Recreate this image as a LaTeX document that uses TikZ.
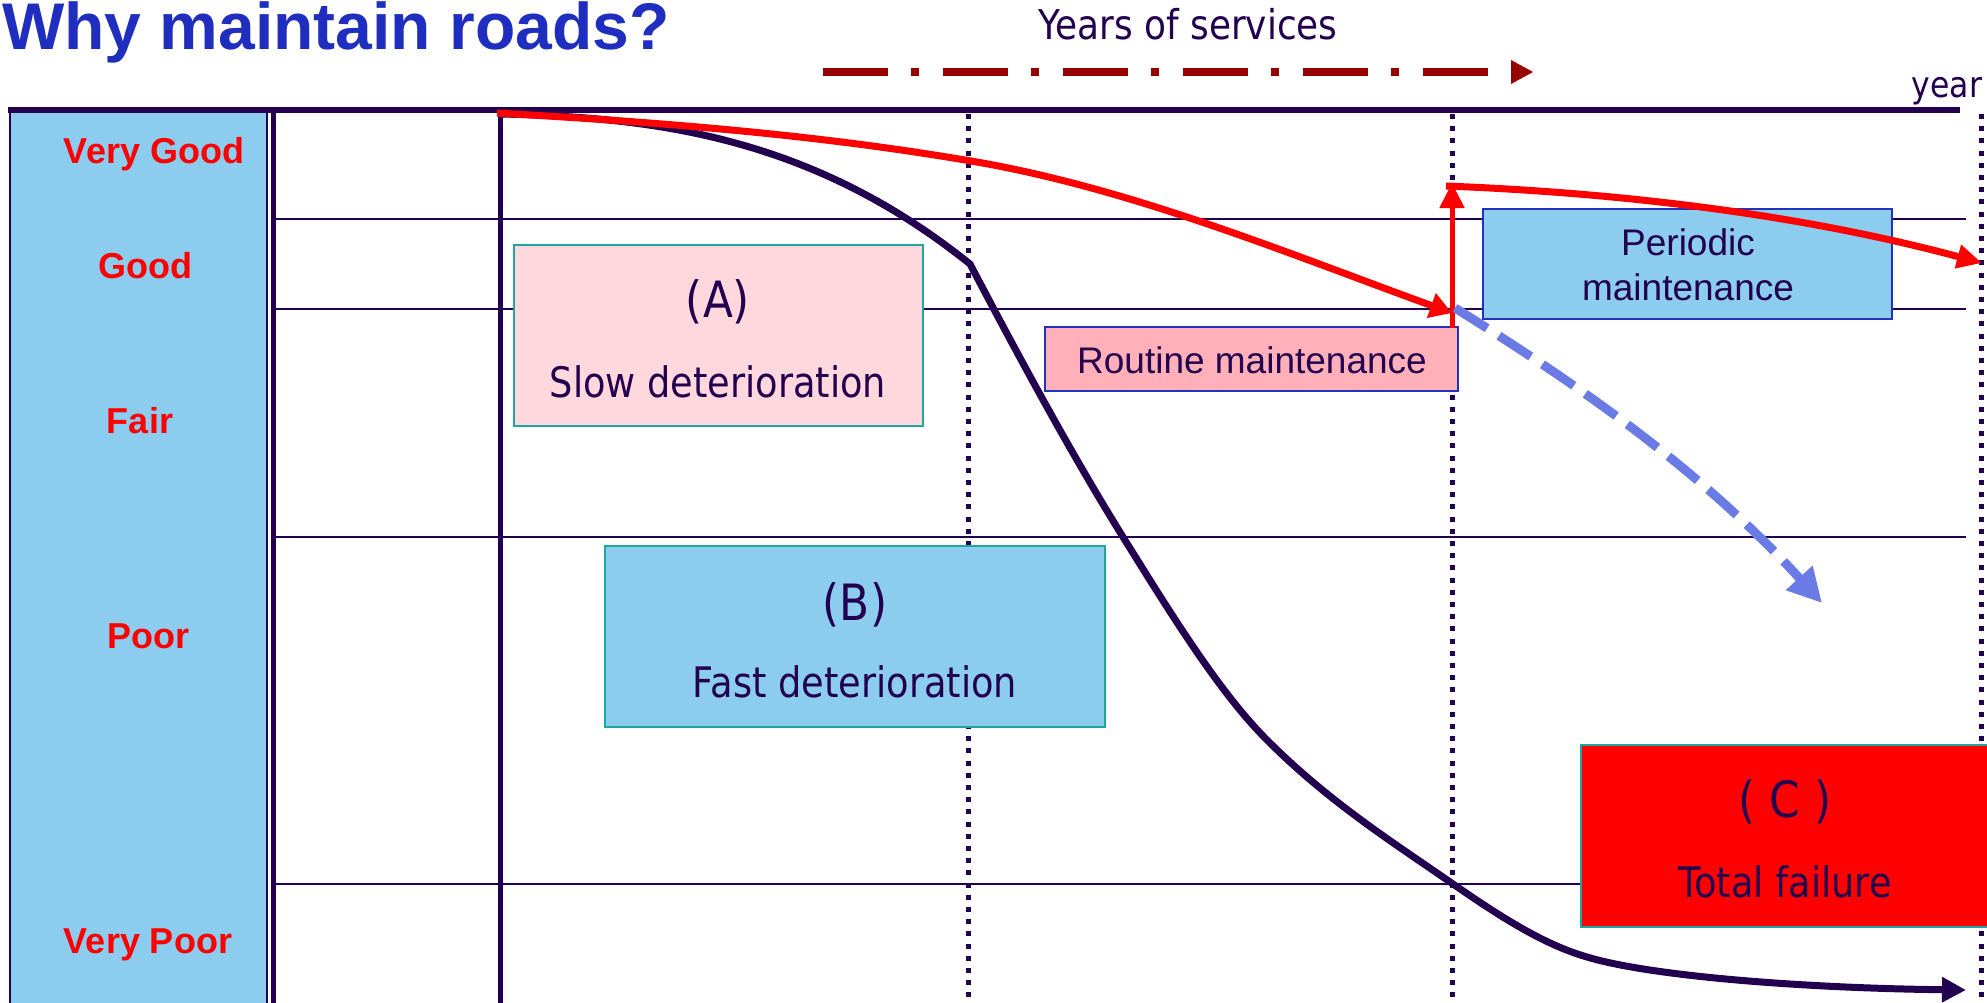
\documentclass[tikz,border=0pt]{standalone}
\usepackage{fontspec}
\setmainfont{Liberation Sans}
\newfontfamily\tahfont[FakeStretch=0.875]{DejaVu Sans}
\usetikzlibrary{arrows.meta}

\definecolor{inkNavy}{HTML}{22004F}
\definecolor{titleBlue}{HTML}{1F2EBF}
\definecolor{panelBlue}{HTML}{8CCCEE}
\definecolor{tealEdge}{HTML}{20A5A5}
\definecolor{boxEdge}{HTML}{2233BB}
\definecolor{pinkA}{HTML}{FFD8DD}
\definecolor{pinkR}{HTML}{FFB0B8}
\definecolor{darkRed}{HTML}{990000}
\definecolor{dashBlue}{HTML}{6B7BE6}

\tikzset{
  gridline/.style={draw=inkNavy, line width=2.5bp},
  dotline/.style={draw=inkNavy, line width=5bp, dash pattern=on 5bp off 7.2bp},
  boxbase/.style={rectangle, inner sep=0pt, outer sep=0pt, line width=2.2bp},
  tealbox/.style={boxbase, draw=tealEdge},
  bluebox/.style={boxbase, draw=boxEdge},
  level/.style={text=red, anchor=base, inner sep=0pt,
    font=\fontsize{36bp}{40bp}\selectfont\bfseries},
  tlabel/.style={text=inkNavy, anchor=base, inner sep=0pt,
    font=\tahfont\fontsize{42bp}{48bp}\selectfont},
  biglabel/.style={text=inkNavy, anchor=base, inner sep=0pt,
    font=\tahfont\fontsize{50bp}{56bp}\selectfont},
  alabel/.style={text=inkNavy, anchor=base, inner sep=0pt,
    font=\fontsize{37bp}{42bp}\selectfont},
  curveN/.style={draw=inkNavy, line width=7bp, line join=round},
  curveR/.style={draw=red, line width=7bp, line join=round},
}

\begin{document}
\begin{tikzpicture}[x=1bp,y=-1bp]
\useasboundingbox (0,0) rectangle (1987,1002);

% condition scale panel
\filldraw[fill=panelBlue, draw=inkNavy, line width=2.5bp] (10,111) rectangle (267,1010);

% condition bands
\foreach \yy in {219,309,537,884}
  \draw[gridline] (273,\yy) -- (1966,\yy);

% axes
\draw[inkNavy, line width=6bp] (8,110) -- (1960,110);
\draw[inkNavy, line width=5bp] (273,108) -- (273,1004);
\draw[inkNavy, line width=5bp] (500,110) -- (500,1004);
\foreach \xx in {968,1452,1981}
  \draw[dotline] (\xx,114) -- (\xx,1004);

% boxes
\node[tealbox, fill=pinkA, minimum width=409bp, minimum height=181bp] (boxA) at (718.5,335.5) {};
\node[tealbox, fill=panelBlue, minimum width=500bp, minimum height=181bp] (boxB) at (855,636.5) {};
\node[tealbox, fill=red, minimum width=409bp, minimum height=182bp] (boxC) at (1785.5,836) {};
\node[bluebox, fill=pinkR, minimum width=413bp, minimum height=64bp] (boxR) at (1251.5,359) {};
\node[bluebox, fill=panelBlue, minimum width=409bp, minimum height=110bp] (boxP) at (1687.5,264) {};

% deterioration without maintenance
\draw[curveN, -{Triangle[length=24bp, width=24bp]}]
  (500,114) .. controls (657,117) and (813,138) .. (970,264)
  .. controls (1021,361) and (1072,455) .. (1123,537)
  .. controls (1171,614) and (1219,692) .. (1267,740)
  .. controls (1329,802) and (1391,841) .. (1453,884)
  .. controls (1498,915) and (1542,944) .. (1587,957)
  .. controls (1650,976) and (1800,988) .. (1966,990);

% deterioration with routine maintenance
\draw[curveR, -{Triangle[length=22bp, width=25bp]}]
  (497,113) .. controls (655,122) and (813,134) .. (971,161)
  .. controls (1131,188) and (1292,255) .. (1452,313);

% periodic maintenance restores the condition
\draw[red, line width=5bp, -{Triangle[length=25bp, width=24bp]}] (1452,328) -- (1452,183);
\draw[curveR, -{Triangle[length=25bp, width=23bp]}]
  (1446,186) .. controls (1625,193) and (1803,215) .. (1982,263);

% deterioration without periodic maintenance
\draw[dashBlue, line width=9bp, dash pattern=on 38bp off 14bp, -{Triangle[length=34bp, width=34bp]}]
  (1455,308) .. controls (1577,384) and (1700,469) .. (1822,603);

% years of service arrow
\draw[darkRed, line width=7.5bp, dash pattern=on 65bp off 23bp on 8bp off 24bp] (823,72) -- (1488,72);
\fill[darkRed] (1511,60) -- (1533,72) -- (1511,84) -- cycle;

% texts
\node[anchor=base west, inner sep=0pt, text=titleBlue,
      font=\fontsize{66bp}{70bp}\selectfont\bfseries] (title) at (2,49) {Why maintain roads?};
\node[tlabel, font=\tahfont\fontsize{41bp}{46bp}\selectfont] (years) at (1188,39.5) {Years of services};
\node[tlabel, font=\tahfont\fontsize{36bp}{40bp}\selectfont] (yearlbl) at (1947,97) {year};

\node[level] (lvVG) at (154,163) {Very Good};
\node[level] (lvG) at (145,278) {Good};
\node[level] (lvF) at (140,433) {Fair};
\node[level] (lvP) at (148,648) {Poor};
\node[level] (lvVP) at (148,953) {Very Poor};

\node[biglabel] (tA) at (718,317) {(A)};
\node[tlabel] (tA2) at (718,397) {Slow deterioration};
\node[biglabel] (tB) at (855,620) {(B)};
\node[tlabel] (tB2) at (855,697) {Fast deterioration};
\node[biglabel] (tC) at (1785,817) {( C )};
\node[tlabel] (tC2) at (1785,897) {Total failure};

\node[alabel] (tR) at (1252,373) {Routine maintenance};
\node[alabel] (tP1) at (1688,255) {Periodic};
\node[alabel] (tP2) at (1688,300) {maintenance};
\end{tikzpicture}
\end{document}
